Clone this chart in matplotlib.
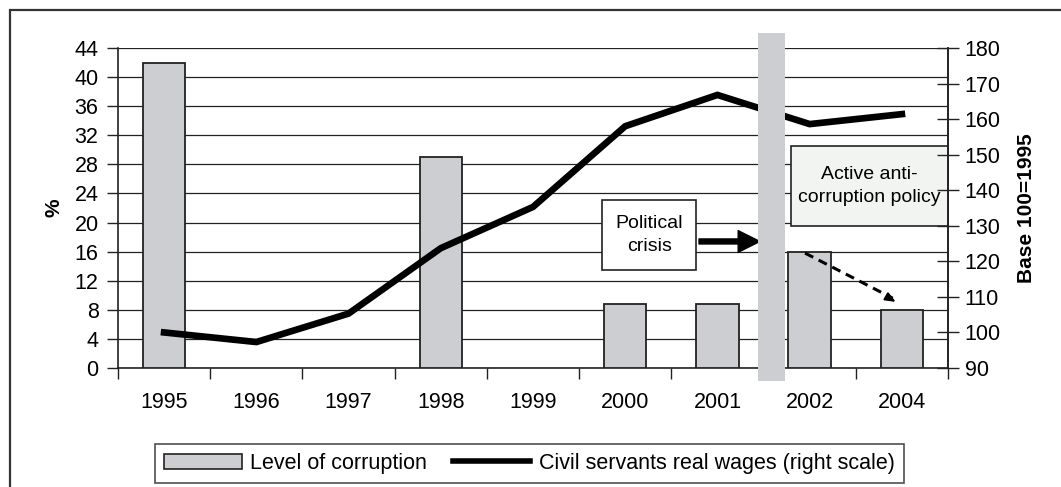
#!/usr/bin/env python3

import numpy as np
from matplotlib import pyplot as plt
from matplotlib.patches import Rectangle, FancyArrowPatch
from matplotlib.lines import Line2D
import matplotlib.transforms as mtransforms

plt.rcParams['font.family'] = ['Liberation Sans', 'DejaVu Sans']

# data
years = ['1995', '1996', '1997', '1998', '1999', '2000', '2001', '2002', '2004']
corruption = [42, np.nan, np.nan, 29, np.nan, 8.8, 8.8, 16, 8]
wages = [100, 97.3, 105.3, 123.7, 135.3, 158, 166.8, 158.6, 161.4]

BAR_GREY = '#cdced2'

fig = plt.figure(figsize=(10.61, 4.87), dpi=100)
ax = fig.add_axes([118 / 1061, 119 / 487, 830 / 1061, 320 / 487])
ax2 = ax.twinx()

x = np.arange(len(years))

# bars (left scale)
ax.bar(x, corruption, width=0.46, color=BAR_GREY, edgecolor='#222222',
       linewidth=1.3, zorder=3)
ax.set_xlim(-0.5, len(years) - 0.5)
ax.set_ylim(0, 44)
ax.set_yticks(np.arange(0, 45, 4))
ax.yaxis.grid(True, color='#222222', linewidth=0.9, zorder=0)
ax.set_axisbelow(True)

# category ticks sit between the years, labels in the middle
ax.set_xticks(np.arange(-0.5, len(years), 1.0))
ax.set_xticklabels([])
ax.set_xticks(x, minor=True)
ax.set_xticklabels(years, minor=True)
ax.tick_params(axis='x', which='minor', length=0, pad=17, labelsize=15.5)
ax.tick_params(axis='x', which='major', direction='out', length=8,
               width=1, color='#222222')
ax.tick_params(axis='y', direction='out', length=8, width=1, pad=6,
               labelsize=15.5, color='#222222')

for side in ['left', 'bottom', 'right']:
    ax.spines[side].set_color('#222222')
    ax.spines[side].set_linewidth(1.2)
ax.spines['top'].set_visible(False)

# line (right scale)
ax2.plot(x, wages, color='black', linewidth=4.8, solid_joinstyle='miter',
         zorder=4)
ax2.set_ylim(90, 180)
ax2.set_yticks(np.arange(90, 181, 10))
ax2.tick_params(axis='y', direction='inout', length=16, width=1, pad=4,
                labelsize=15.5, color='#222222')
for side in ['left', 'bottom', 'right', 'top']:
    ax2.spines[side].set_visible(False)
ax2.spines['right'].set_visible(True)
ax2.spines['right'].set_color('#222222')
ax2.spines['right'].set_linewidth(1.2)

# axis titles
ax.set_ylabel('%', fontsize=15, fontweight='bold')
ax.yaxis.set_label_coords(-0.066, 0.5)
ax2.set_ylabel('Base 100=1995', fontsize=15, fontweight='bold')
ax2.yaxis.set_label_coords(1.083, 0.5)

# grey band marking the policy change (between 2001 and 2002)
blend = mtransforms.blended_transform_factory(ax2.transData, ax2.transAxes)
ax2.add_patch(Rectangle((6.44, -0.04), 0.29, 1.087, transform=blend,
                        facecolor=BAR_GREY, edgecolor='none', clip_on=False,
                        zorder=6))

# "Political crisis" box and arrow
ax.add_patch(Rectangle((4.75, 13.5), 1.02, 9.6, facecolor='white',
                       edgecolor='#222222', linewidth=1.2, zorder=7,
                       clip_on=False))
ax.text(5.26, 18.3, 'Political\ncrisis', ha='center', va='center',
        fontsize=14, linespacing=1.5, zorder=8)
ax.add_patch(FancyArrowPatch((5.77, 17.4), (6.49, 17.4),
                             arrowstyle='simple,head_length=1.3,head_width=1.3,tail_width=0.3',
                             mutation_scale=12, color='black', zorder=8,
                             clip_on=False))

# "Active anti-corruption policy" box
ax.add_patch(Rectangle((6.8, 19.5), 1.7, 11.0, facecolor='#f2f4f2',
                       edgecolor='#222222', linewidth=1.2, zorder=7,
                       clip_on=False))
ax.text(7.65, 25.0, 'Active anti-\ncorruption policy', ha='center',
        va='center', fontsize=14, linespacing=1.5, zorder=8)

# dashed arrow from 2002 bar to 2004 bar
ax.plot([6.95, 7.9], [15.8, 9.6], color='black', linewidth=2.2,
        linestyle=(0, (3, 2)), zorder=8)
ax.annotate('', xy=(7.96, 8.9), xytext=(7.85, 9.7),
            arrowprops=dict(arrowstyle='-|>,head_length=0.6,head_width=0.25',
                            color='black', linewidth=1.5),
            zorder=8)

# legend at the bottom of the frame
handles = [Rectangle((0, 0), 1, 1, facecolor=BAR_GREY, edgecolor='#222222',
                     linewidth=1.2),
           Line2D([], [], color='black', linewidth=4)]
labels = ['Level of corruption', 'Civil servants real wages (right scale)']
leg = fig.legend(handles, labels, loc='center', ncol=2,
                 bbox_to_anchor=(529.5 / 1061, 23.5 / 487), frameon=True,
                 fancybox=False, edgecolor='#222222', fontsize=15.5,
                 handlelength=3.6, handletextpad=0.4, columnspacing=1.2,
                 borderpad=0.4)
leg.get_frame().set_linewidth(1.2)

# outer chart frame
fig.patches.append(Rectangle((10 / 1061, -0.1), 1.1, 477 / 487 + 0.1,
                             transform=fig.transFigure, fill=False,
                             edgecolor='#333333', linewidth=1.6))

fig.savefig('out.png', dpi=100)
